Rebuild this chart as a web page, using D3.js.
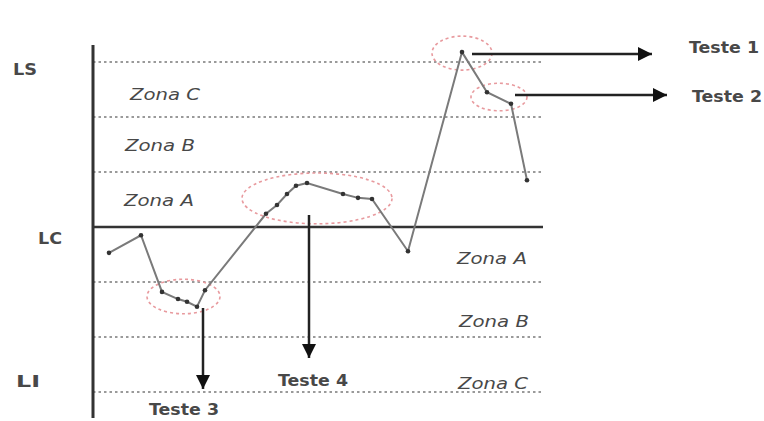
<!DOCTYPE html>
<html><head><meta charset="utf-8">
<script src="https://cdn.jsdelivr.net/npm/d3@7"></script>
<style>
html,body{margin:0;padding:0;background:#fff;}
svg{display:block;}
text{font-family:"DejaVu Sans",Verdana,sans-serif;fill:#484848;}
</style></head>
<body>
<svg id="c" width="764" height="421"></svg>
<script>
// ---- data ----
const xPos   = [16, 48, 69, 85, 94, 104, 112, 173, 184, 194, 203, 214, 250, 265, 279, 315, 369, 394, 418, 434];
const values = [-0.47, -0.15, -1.18, -1.31, -1.36, -1.45, -1.15, 0.24, 0.40, 0.60, 0.75, 0.80, 0.60, 0.53, 0.51, -0.44, 3.18, 2.45, 2.24, 0.85];
const dashedLevels = [3, 2, 1, -1, -2, -3];
const centerLevel = 0;
const limitLabels = ["LS", "LC", "LI"];
const limitValues = [3, 0, -3];
const zoneNamesUpper = ["Zona C", "Zona B", "Zona A"];
const zoneMidsUpper  = [2.5, 1.5, 0.5];
const zoneNamesLower = ["Zona A", "Zona B", "Zona C"];
const zoneMidsLower  = [-0.5, -1.5, -2.5];
const testNames  = ["Teste 1", "Teste 2", "Teste 3", "Teste 4"];
const testPoints = [[16], [17, 18], [2, 3, 4, 5, 6], [7, 8, 9, 10, 11, 12, 13, 14]];

// ---- layout ----
const svg = d3.select("#c");
const x = d3.scaleLinear().domain([0, 450]).range([93, 543]);
const y = d3.scaleLinear().domain([-3, 3]).range([392, 62]);
const pts = xPos.map((d, i) => ({x: x(d), y: y(values[i])}));

// dashed zone lines
svg.selectAll("line.zone").data(dashedLevels).join("line")
  .attr("x1", x(0)).attr("x2", x(450))
  .attr("y1", d => y(d)).attr("y2", d => y(d))
  .attr("stroke", "#9a9a9a").attr("stroke-width", 2).attr("stroke-dasharray", "2.5,3");

// center line
svg.append("line").attr("x1", x(0)).attr("x2", x(450))
  .attr("y1", y(centerLevel)).attr("y2", y(centerLevel))
  .attr("stroke", "#333").attr("stroke-width", 2.5);

// vertical axis
svg.append("line").attr("x1", x(0)).attr("x2", x(0)).attr("y1", 45).attr("y2", 418)
  .attr("stroke", "#333").attr("stroke-width", 3);

// limit labels
const limitX = [25, 50, 28];
svg.selectAll("text.lim").data(limitLabels).join("text")
  .attr("x", (d, i) => limitX[i]).attr("y", (d, i) => y(limitValues[i]) + [13, 17, -5][i])
  .attr("text-anchor", "middle").attr("font-size", 16).attr("font-weight", "bold")
  .attr("textLength", 24).attr("lengthAdjust", "spacingAndGlyphs")
  .text(d => d);

// zone labels
svg.selectAll("text.zu").data(zoneNamesUpper).join("text")
  .attr("x", (d, i) => [165, 160, 159][i]).attr("y", (d, i) => y(zoneMidsUpper[i]) + [4, 0, 0][i] + 6)
  .attr("text-anchor", "middle").attr("font-size", 16).attr("font-style", "italic")
  .attr("textLength", 70).attr("lengthAdjust", "spacingAndGlyphs")
  .text(d => d);
svg.selectAll("text.zl").data(zoneNamesLower).join("text")
  .attr("x", (d, i) => [492, 494, 493][i]).attr("y", (d, i) => y(zoneMidsLower[i]) + [3, 11, 18][i] + 6)
  .attr("text-anchor", "middle").attr("font-size", 16).attr("font-style", "italic")
  .attr("textLength", 70).attr("lengthAdjust", "spacingAndGlyphs")
  .text(d => d);

// ellipses
const pads = [[30, 17, 0, 1], [16, 8, 0, -1], [15, 9, 0, -2], [22, 10, -2, 0]];
testPoints.forEach((g, k) => {
  const gx = d3.extent(g, i => pts[i].x), gy = d3.extent(g, i => pts[i].y);
  const cx = (gx[0] + gx[1]) / 2 + pads[k][2], cy = (gy[0] + gy[1]) / 2 + pads[k][3];
  const rx = (gx[1] - gx[0]) / 2 + pads[k][0], ry = (gy[1] - gy[0]) / 2 + pads[k][1];
  svg.append("ellipse").attr("cx", cx).attr("cy", cy).attr("rx", rx).attr("ry", ry)
    .attr("fill", "none").attr("stroke", "#e89a9e").attr("stroke-width", 1.6).attr("stroke-dasharray", "3,3");
});

// series line
svg.append("path").datum(pts)
  .attr("d", d3.line().x(d => d.x).y(d => d.y))
  .attr("fill", "none").attr("stroke", "#7a7a7a").attr("stroke-width", 2);
svg.selectAll("circle.p").data(pts).join("circle")
  .attr("cx", d => d.x).attr("cy", d => d.y).attr("r", 2.3).attr("fill", "#333");

// arrows
const defs = svg.append("defs");
defs.append("marker").attr("id", "ah").attr("viewBox", "0 0 10 10").attr("refX", 10).attr("refY", 5)
  .attr("markerWidth", 14).attr("markerHeight", 14).attr("markerUnits", "userSpaceOnUse").attr("orient", "auto")
  .append("path").attr("d", "M0,0L10,5L0,10Z").attr("fill", "#111");
const arrows = [
  {x1: 472, y1: 54, x2: 652, y2: 54},
  {x1: 515, y1: 95, x2: 667, y2: 95},
  {x1: 203, y1: 308, x2: 203, y2: 389},
  {x1: 309, y1: 215, x2: 309, y2: 358}
];
svg.selectAll("line.arr").data(arrows).join("line")
  .attr("x1", d => d.x1).attr("y1", d => d.y1).attr("x2", d => d.x2).attr("y2", d => d.y2)
  .attr("stroke", "#222").attr("stroke-width", 2.5).attr("marker-end", "url(#ah)");

// test labels
const testLabelPos = [[724, 53], [727, 102], [184, 415], [313, 386]];
svg.selectAll("text.t").data(testNames).join("text")
  .attr("x", (d, i) => testLabelPos[i][0]).attr("y", (d, i) => testLabelPos[i][1])
  .attr("text-anchor", "middle").attr("font-size", 16).attr("font-weight", "bold")
  .attr("textLength", 70).attr("lengthAdjust", "spacingAndGlyphs")
  .text(d => d);
</script>
</body></html>
